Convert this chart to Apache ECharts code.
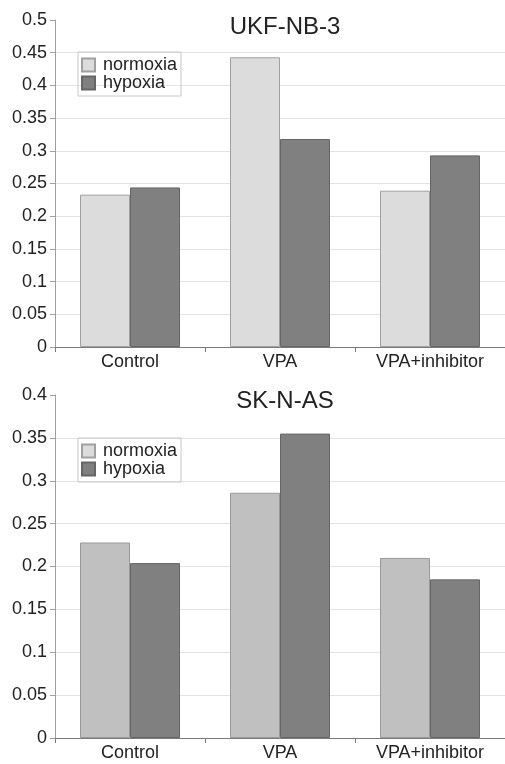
<!DOCTYPE html>
<html>
<head>
<meta charset="utf-8">
<style>
html,body{margin:0;padding:0;background:#fff;}
#chart{width:505px;height:764px;}
</style>
<script src="https://cdn.jsdelivr.net/npm/echarts@6/dist/echarts.min.js"></script>
</head>
<body>
<div id="chart"></div>
<script>
var categories = ['Control', 'VPA', 'VPA+inhibitor'];
var seriesNames = ['normoxia', 'hypoxia'];
var ukfNormoxia = [0.233, 0.443, 0.239];
var ukfHypoxia = [0.244, 0.318, 0.293];
var sknNormoxia = [0.228, 0.286, 0.210];
var sknHypoxia = [0.204, 0.355, 0.185];
var titles = ['UKF-NB-3', 'SK-N-AS'];

var FONT = '"Liberation Sans", Arial, sans-serif';
var chart = echarts.init(document.getElementById('chart'));

function xAxisCfg(gi) {
  return {
    type: 'category', gridIndex: gi, data: categories,
    axisLine: {lineStyle: {color: '#7a7a7a', width: 1}},
    axisTick: {show: true, length: 5, lineStyle: {color: '#7a7a7a'}},
    axisLabel: {fontFamily: FONT, fontSize: 18, color: '#222', margin: 6}
  };
}
function yAxisCfg(gi, max) {
  return {
    type: 'value', gridIndex: gi, min: 0, max: max, interval: 0.05,
    axisLine: {show: true, lineStyle: {color: '#a0a0a0', width: 1}},
    axisTick: {show: true, length: 5, lineStyle: {color: '#a0a0a0'}},
    axisLabel: {fontFamily: FONT, fontSize: 18, color: '#222', margin: 8},
    splitLine: {show: true, showMaxLine: false, lineStyle: {color: '#e3e3e3', width: 1}}
  };
}
function legendCfg(top) {
  return {
    orient: 'vertical', left: 78, top: top,
    data: seriesNames,
    icon: 'rect',
    itemWidth: 13, itemHeight: 13, itemGap: 0,
    padding: [4, 4, 4, 3],
    borderColor: '#c8c8c8', borderWidth: 1,
    textStyle: {fontFamily: FONT, fontSize: 18, color: '#222', lineHeight: 18, padding: [0, 0, 0, 3]},
    selectedMode: false
  };
}
function barSeries(name, xi, data, color, border) {
  return {
    type: 'bar', name: name, xAxisIndex: xi, yAxisIndex: xi, data: data,
    barWidth: 50, barGap: '0%',
    itemStyle: {color: color, borderColor: border, borderWidth: 1},
    emphasis: {disabled: true}
  };
}

chart.setOption({
  animation: false,
  title: [
    {text: titles[0], left: 280, top: 10, textAlign: 'center',
     textStyle: {fontFamily: FONT, fontSize: 24, fontWeight: 'normal', color: '#222'}},
    {text: titles[1], left: 280, top: 384, textAlign: 'center',
     textStyle: {fontFamily: FONT, fontSize: 24, fontWeight: 'normal', color: '#222'}}
  ],
  legend: [legendCfg(52), legendCfg(438)],
  grid: [
    {left: 55, top: 20, width: 450, height: 327, containLabel: false},
    {left: 55, top: 395, width: 450, height: 343, containLabel: false}
  ],
  xAxis: [xAxisCfg(0), xAxisCfg(1)],
  yAxis: [yAxisCfg(0, 0.5), yAxisCfg(1, 0.4)],
  series: [
    barSeries(seriesNames[0], 0, ukfNormoxia, '#dcdcdc', '#a0a0a0'),
    barSeries(seriesNames[1], 0, ukfHypoxia, '#808080', '#666666'),
    barSeries(seriesNames[0], 1, sknNormoxia, '#c0c0c0', '#999999'),
    barSeries(seriesNames[1], 1, sknHypoxia, '#808080', '#666666')
  ]
});
</script>
</body>
</html>
